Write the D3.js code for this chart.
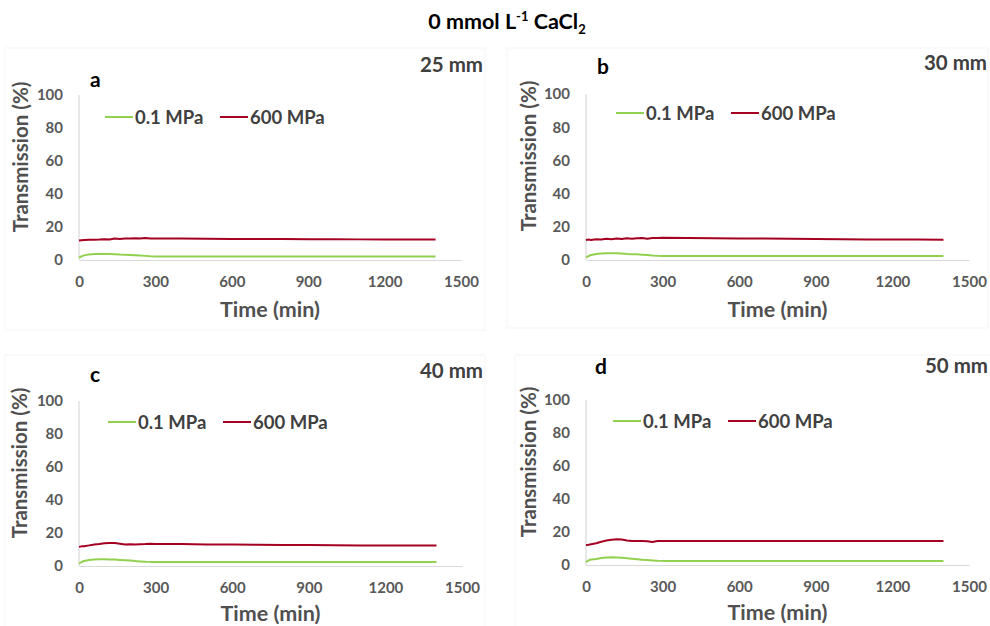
<!DOCTYPE html>
<html>
<head>
<meta charset="utf-8">
<script src="https://cdn.jsdelivr.net/npm/d3@7"></script>
<style>
  body { margin: 0; background: #ffffff; }
  svg { display: block; }
  text { font-family: Lato, "Open Sans", sans-serif; font-weight: 700; }
</style>
</head>
<body>
<svg id="chart" width="990" height="626"></svg>
<script>
// Sampling times (min) shared by every series
const timeMin = [0, 10, 20, 40, 60, 80, 100, 120, 140, 160, 180, 200, 220, 240, 260, 280, 300,
                 400, 500, 600, 700, 800, 900, 1000, 1100, 1200, 1300, 1400];

const panelLetters = ["a", "b", "c", "d"];
const distances = ["25 mm", "30 mm", "40 mm", "50 mm"];
const seriesNames = ["0.1 MPa", "600 MPa"];
const xTicks = [0, 300, 600, 900, 1200, 1500];
const yTicks = [0, 20, 40, 60, 80, 100];

// Transmission (%) at 0.1 MPa
const low25 = [1.5, 2.2, 2.8, 3.4, 3.6, 3.6, 3.6, 3.6, 3.5, 3.3, 3.2, 3.1, 2.9, 2.7, 2.5, 2.2, 2.1,
               2.1, 2.1, 2.1, 2.1, 2.1, 2.1, 2.1, 2.1, 2.1, 2.1, 2.1];
const low30 = [1.6, 2.4, 3.0, 3.6, 3.9, 4.0, 4.0, 4.0, 3.9, 3.6, 3.5, 3.4, 3.2, 3.0, 2.7, 2.5, 2.4,
               2.4, 2.4, 2.4, 2.4, 2.4, 2.4, 2.4, 2.4, 2.4, 2.4, 2.4];
const low40 = [1.6, 2.4, 3.0, 3.6, 4.0, 4.1, 4.1, 4.0, 3.9, 3.7, 3.5, 3.3, 3.0, 2.8, 2.6, 2.5, 2.5,
               2.5, 2.5, 2.5, 2.5, 2.5, 2.5, 2.5, 2.5, 2.5, 2.5, 2.5];
const low50 = [1.8, 2.8, 3.3, 3.7, 4.2, 4.6, 4.7, 4.6, 4.4, 4.1, 3.8, 3.5, 3.2, 3.0, 2.8, 2.6, 2.5,
               2.5, 2.5, 2.5, 2.5, 2.5, 2.5, 2.5, 2.5, 2.5, 2.5, 2.5];

// Transmission (%) at 600 MPa
const high25 = [11.8, 12.0, 12.1, 12.2, 12.3, 12.4, 12.6, 12.4, 13.0, 12.8, 13.0, 13.0, 13.2, 13.0, 13.4, 13.1, 13.1,
                13.0, 12.9, 12.8, 12.7, 12.7, 12.6, 12.6, 12.5, 12.5, 12.4, 12.4];
const high30 = [12.0, 12.3, 12.1, 12.5, 12.3, 12.8, 12.5, 12.9, 12.6, 13.1, 12.8, 13.1, 13.3, 12.8, 13.3, 13.3, 13.4,
                13.3, 13.1, 13.0, 12.9, 12.8, 12.7, 12.5, 12.4, 12.3, 12.3, 12.2];
const high40 = [11.6, 11.9, 12.0, 12.5, 13.0, 13.3, 13.8, 14.0, 13.9, 13.5, 13.0, 13.2, 13.0, 13.2, 13.3, 13.5, 13.4,
                13.3, 13.1, 13.0, 12.9, 12.8, 12.7, 12.6, 12.5, 12.4, 12.4, 12.4];
const high50 = [12.1, 12.3, 12.6, 13.2, 14.1, 14.8, 15.3, 15.6, 15.4, 14.8, 14.5, 14.6, 14.5, 14.4, 13.9, 14.5, 14.5,
                14.5, 14.5, 14.5, 14.5, 14.5, 14.5, 14.5, 14.5, 14.5, 14.5, 14.5];

const lowSeries = [low25, low30, low40, low50];
const highSeries = [high25, high30, high40, high50];

const colors = ["#92d050", "#a50021"];

// Placement of each small multiple on the page
const layout = [
  { left: 79,  top: 95,  width: 382, height: 165, frame: [5, 48, 480, 282],   letter: [90, 87],   dist: [483, 72],  yTitleX: 21,  legend: [105, 117], xTitleGap: 57 },
  { left: 586, top: 94,  width: 383, height: 166, frame: [507, 48, 481, 280], letter: [597, 74],  dist: [987, 70],  yTitleX: 529, legend: [616, 113], xTitleGap: 57 },
  { left: 79,  top: 401, width: 383, height: 165, frame: [5, 355, 480, 275],  letter: [90, 382],  dist: [483, 378], yTitleX: 20,  legend: [108, 422], xTitleGap: 55 },
  { left: 586, top: 400, width: 383, height: 165, frame: [515, 355, 480, 275], letter: [595, 374], dist: [988, 373], yTitleX: 529, legend: [613, 421], xTitleGap: 55 }
];

const svg = d3.select("#chart");

// Main title with superscript and subscript
const title = svg.append("text")
  .attr("x", 507).attr("y", 29)
  .attr("text-anchor", "middle")
  .attr("font-size", 21.5)
  .attr("fill", "#000");
title.append("tspan").text("0 mmol L");
title.append("tspan").attr("dy", -8).attr("font-size", 13).text("-1");
title.append("tspan").attr("dy", 8).text(" CaCl");
title.append("tspan").attr("dy", 5).attr("font-size", 13).text("2");

layout.forEach((p, i) => {
  const g = svg.append("g");

  g.append("rect")
    .attr("x", p.frame[0]).attr("y", p.frame[1])
    .attr("width", p.frame[2]).attr("height", p.frame[3])
    .attr("fill", "#ffffff")
    .attr("stroke", "#f5f5f5")
    .attr("stroke-width", 1);

  const x = d3.scaleLinear().domain([0, 1500]).range([p.left, p.left + p.width]);
  const y = d3.scaleLinear().domain([0, 100]).range([p.top + p.height, p.top]);

  // Axes without tick marks, labels only
  const xAxis = d3.axisBottom(x).tickValues(xTicks).tickSize(0).tickPadding(16).tickFormat(d3.format("d"));
  const yAxis = d3.axisLeft(y).tickValues(yTicks).tickSize(0).tickPadding(16).tickFormat(d3.format("d"));

  const gx = g.append("g").attr("transform", `translate(0,${p.top + p.height})`).call(xAxis);
  const gy = g.append("g").attr("transform", `translate(${p.left},0)`).call(yAxis);
  [gx, gy].forEach(ax => {
    ax.select(".domain").attr("stroke", "#d9d9d9").attr("stroke-width", 1.2);
    ax.selectAll("text").attr("font-size", 15).attr("fill", "#595959")
      .attr("font-family", "Lato, 'Open Sans', sans-serif").attr("font-weight", 700);
  });
  gy.select(".domain").attr("d", `M0,${p.top}V${p.top + p.height}`);

  // Axis titles
  g.append("text")
    .attr("x", p.left + p.width * 0.5).attr("y", p.top + p.height + p.xTitleGap)
    .attr("text-anchor", "middle").attr("font-size", 21.5).attr("fill", "#505050")
    .text("Time (min)");
  g.append("text")
    .attr("transform", `translate(${p.yTitleX + 7},${p.top + 62}) rotate(-90)`)
    .attr("text-anchor", "middle").attr("font-size", 20.5).attr("fill", "#505050")
    .text("Transmission (%)");

  // Panel letter and distance
  g.append("text").attr("x", p.letter[0]).attr("y", p.letter[1])
    .attr("font-size", 21).attr("fill", "#000").text(panelLetters[i]);
  g.append("text").attr("x", p.dist[0]).attr("y", p.dist[1])
    .attr("text-anchor", "end").attr("font-size", 20.5).attr("fill", "#404040").text(distances[i]);

  // Series lines
  const line = d3.line().x((d, k) => x(timeMin[k])).y(d => y(d));
  [lowSeries[i], highSeries[i]].forEach((vals, s) => {
    g.append("path").datum(vals)
      .attr("d", line)
      .attr("fill", "none")
      .attr("stroke", colors[s])
      .attr("stroke-width", 2)
      .attr("stroke-linejoin", "round");
  });

  // Legend
  const legendOffsets = [0, 115];
  seriesNames.forEach((name, s) => {
    const lx = p.legend[0] + legendOffsets[s];
    g.append("line")
      .attr("x1", lx).attr("x2", lx + 28)
      .attr("y1", p.legend[1]).attr("y2", p.legend[1])
      .attr("stroke", colors[s]).attr("stroke-width", 2);
    g.append("text")
      .attr("x", lx + 30).attr("y", p.legend[1] + 6.5)
      .attr("font-size", 18.5).attr("fill", "#404040")
      .text(name);
  });
});
</script>
</body>
</html>
